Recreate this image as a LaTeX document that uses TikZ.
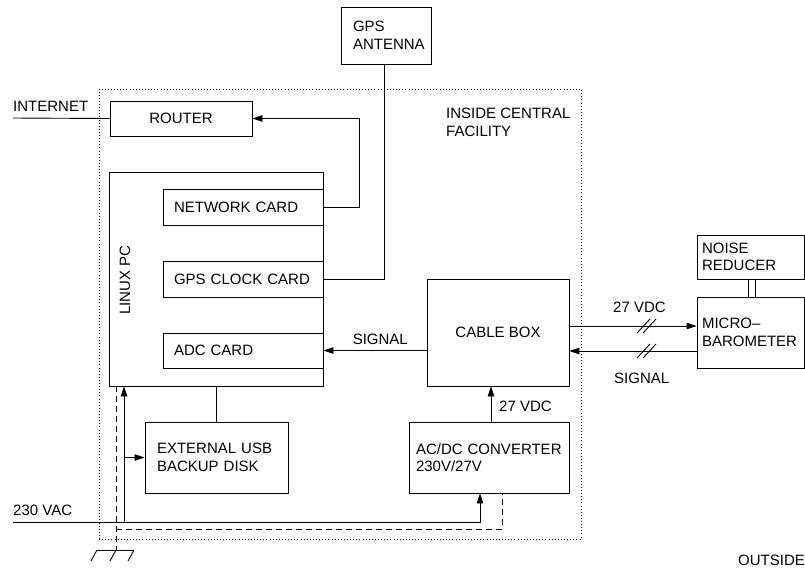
\documentclass[tikz,border=0pt]{standalone}
\usepackage{fontspec}
\setmainfont{Liberation Sans}
\usetikzlibrary{arrows.meta}
\begin{document}
\begin{tikzpicture}[x=1pt,y=-1pt,
  every node/.style={font=\fontsize{15}{17.5}\selectfont},
  box/.style={draw,line width=0.9pt,inner ysep=0pt},
  lbox/.style={box,align=left,execute at begin node={\hyphenpenalty=10000}},
  ln/.style={line width=0.9pt},
  arr/.style={ln,-{Triangle[length=10pt,width=6.5pt]}},
  dsh/.style={ln,dash pattern=on 6pt off 4pt},
  lbl/.style={inner sep=0pt,anchor=base west}]
\useasboundingbox (0,0) rectangle (805,568);
% facility region
\node[draw,line width=0.9pt,dash pattern=on 0.9pt off 2.2pt,minimum width=482,minimum height=450,inner sep=0pt] (facility) at (340,314) {};
\node[lbl,align=left,anchor=north west] (insidelbl) at (446,108) {INSIDE CENTRAL\\FACILITY};
\node[lbl] (outsidelbl) at (738,565) {OUTSIDE};
% boxes
\node[box,minimum width=142,minimum height=35] (router) at (181,118.5) {ROUTER};
\node[lbox,minimum height=57,inner xsep=12pt,text width=66pt] (gps) at (386,35.5) {GPS\\ANTENNA};
\node[box,minimum width=214,minimum height=214,inner sep=0pt] (pc) at (216,279) {};
\node[inner sep=0pt,rotate=90] (pclbl) at (125,280) {LINUX PC};
\node[lbox,minimum height=36,inner xsep=11pt,text width=138pt] (netcard) at (243,207) {NETWORK CARD};
\node[lbox,minimum height=36,inner xsep=11pt,text width=138pt] (gpsclock) at (243,279) {GPS CLOCK CARD};
\node[lbox,minimum height=35,inner xsep=11pt,text width=138pt] (adc) at (243,350.5) {ADC CARD};
\node[box,minimum width=142,minimum height=107] (cablebox) at (498,332.5) {CABLE BOX};
\node[lbox,minimum height=71,inner xsep=5pt,text width=97pt] (micro) at (750.5,332.5) {MICRO–\\BAROMETER};
\node[lbox,minimum height=44,inner xsep=5pt,text width=97pt] (noise) at (750.5,257) {NOISE\\REDUCER};
\node[lbox,minimum height=71,inner xsep=12pt,text width=119pt] (usb) at (216.5,457.5) {EXTERNAL USB\\BACKUP DISK};
\node[lbox,minimum height=71,inner xsep=7pt,text width=146pt] (conv) at (489,457.5) {\mbox{AC/DC CONVERTER}\\230V/27V};
% internet
\coordinate (inet) at (13,118);
\draw[ln] (inet) -- (router.west);
\node[lbl] (inetlbl) at (13,111) {INTERNET};
% network card to router
\draw[arr] (netcard.east) -- ++(36,0) |- (router.east);
% gps antenna to gps clock card
\draw[ln] ([xshift=-2pt]gps.south) |- (gpsclock.east);
% cable box to adc
\draw[arr] (cablebox.west |- adc.east) -- (adc.east);
\node[lbl,anchor=base east] (siglbl) at (408,344) {SIGNAL};
% cable box <-> micro-barometer
\draw[arr] ([yshift=6.5pt]cablebox.east) -- ([yshift=6.5pt]micro.west);
\draw[arr] ([yshift=-18.5pt]micro.west) -- ([yshift=-18.5pt]cablebox.east);
\node[lbl] (vdclbl) at (613,312) {27 VDC};
\node[lbl] (sig2lbl) at (614,383) {SIGNAL};
\coordinate (s1) at (647,326);
\coordinate (s2) at (647,351);
\foreach \s in {s1,s2} {
  \draw[ln] ([shift={(-10,7)}]\s) -- ([shift={(3,-7)}]\s);
  \draw[ln] ([shift={(-4,7)}]\s) -- ([shift={(9,-7)}]\s);
}
% noise reducer link
\draw[ln] ([xshift=-2.5pt]noise.south) -- ([xshift=-2.5pt]micro.north);
\draw[ln] ([xshift=4.5pt]noise.south) -- ([xshift=4.5pt]micro.north);
% converter to cable box
\draw[arr] ([xshift=2pt]conv.north) -- ([xshift=2pt]conv.north |- cablebox.south);
\node[lbl] (vdc2lbl) at (499,411) {27 VDC};
% 230 VAC
\coordinate (vac) at (13,522);
\node[lbl] (vaclbl) at (13,515) {230 VAC};
\draw[arr] (vac) -| ([xshift=-9pt]conv.south);
\coordinate (tap) at (124,522);
\draw[arr] (tap) -- (tap |- pc.south);
\draw[arr] (usb.west -| tap) -- (usb.west);
\draw[ln] (pc.south -| usb.north) -- (usb.north);
% ground (dashed)
\coordinate (gnd) at (116,550);
\draw[dsh] (gnd |- pc.south) -- (gnd);
\draw[dsh] (gnd |- 0,529) -| ([xshift=13pt]conv.south);
\draw[ln] (97,550) -- (134,550);
\foreach \gx in {97,116,134} {
  \draw[ln] (\gx,550) -- (\gx-6,561);
}
\end{tikzpicture}
\end{document}
